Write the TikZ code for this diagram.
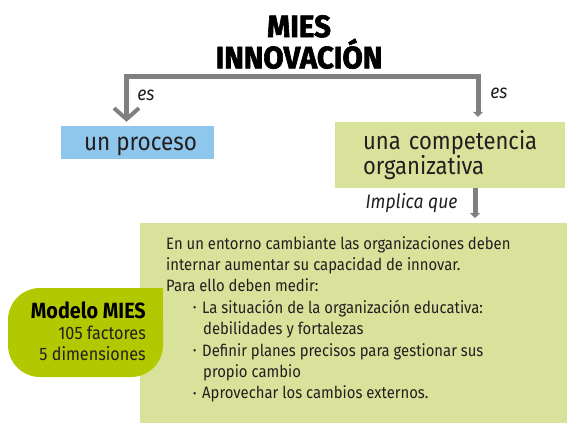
\documentclass[tikz,border=0pt]{standalone}
\usepackage{fontspec}
\setmainfont{Fira Sans}[FakeStretch=0.9]
\newfontfamily\titlefont{Fira Sans}[FakeStretch=0.95,FakeBold=2]
\usetikzlibrary{arrows.meta,positioning}
\definecolor{gris}{RGB}{128,128,128}
\definecolor{azul}{RGB}{143,198,236}
\definecolor{verdeclaro}{RGB}{217,226,154}
\definecolor{lima}{RGB}{178,200,0}
\definecolor{texto}{RGB}{35,31,32}
\newcommand{\punto}{\hspace*{27pt}\makebox[9pt][l]{\raisebox{1.5pt}{\fontsize{11}{11}\selectfont\textbullet}}}

\begin{document}
\begin{tikzpicture}[x=1pt,y=-1pt,
    linea/.style={draw=gris, line width=5pt},
    etiqueta/.style={font=\itshape\fontsize{19.5}{20}\selectfont, text=texto, inner sep=0pt}]
    \useasboundingbox (0,0) rectangle (567,423);

    \node[align=center, inner sep=0pt, font=\titlefont\bfseries\fontsize{31}{28}\selectfont] (titulo) at (299,42) {MIES\\INNOVACIÓN};

    \node[fill=azul, inner sep=0pt, minimum width=153pt, minimum height=33pt, text height=20pt, text depth=4pt, font=\fontsize{25}{25}\selectfont, text=texto] (proceso) at (137.5,142.5) {\hspace*{6pt}un proceso};
    \node[fill=verdeclaro, text width=178pt, inner xsep=26pt, inner ysep=0pt, minimum height=66pt, align=left, font=\fontsize{24.5}{23}\selectfont, text=texto] (competencia) at (450,155) {\hspace*{2pt}una competencia\\\hspace*{2pt}organizativa};

    \coordinate (izq) at (126.5,76);
    \coordinate (der) at (478,76);
    \draw[linea, arrows={Straight Barb[length=11pt,width=25pt,line width=4pt]-Triangle[length=5pt,width=10pt]}, shorten <=4pt, shorten >=5pt]
        (izq |- proceso.north) -- (izq) -- (der) -- (der |- competencia.north);
    \node[etiqueta] (es1) at (146,95) {es};
    \node[etiqueta] (es2) at (499,93) {es};

    \node[fill=verdeclaro, inner sep=0pt, minimum width=427pt, minimum height=200pt, anchor=north west] (medir) at (140,223) {};
    \draw[linea, -{Triangle[length=5pt,width=10pt]}, shorten >=5pt] ([xshift=25pt]competencia.south) -- ([xshift=25pt]competencia.south |- medir.north);
    \node[etiqueta] (implica) at (411.5,203) {Implica que};

    \node[anchor=north west, align=left, inner sep=0pt, font=\fontsize{16.5}{21.4}\selectfont, text=texto] (lista) at (166,236) {En un entorno cambiante las organizaciones deben\\
        internar aumentar su capacidad de innovar.\\
        Para ello deben medir:\\
        \punto La situación de la organización educativa:\\
        \hspace*{37pt}debilidades y fortalezas\\
        \punto Definir planes precisos para gestionar sus\\
        \hspace*{37pt}propio cambio\\
        \punto Aprovechar los cambios externos.};

    \fill[lima, rounded corners=32pt] (8,288) rectangle (163,377);
    \fill[lima] (120,288) rectangle (163,330);
    \node[anchor=north east, align=right, inner sep=0pt, font=\fontsize{18}{21}\selectfont, text=texto] (modelo) at (146,302) {{\bfseries\fontsize{22}{21}\selectfont\color{black}Modelo MIES}\\105 factores\\5 dimensiones};
\end{tikzpicture}
\end{document}
